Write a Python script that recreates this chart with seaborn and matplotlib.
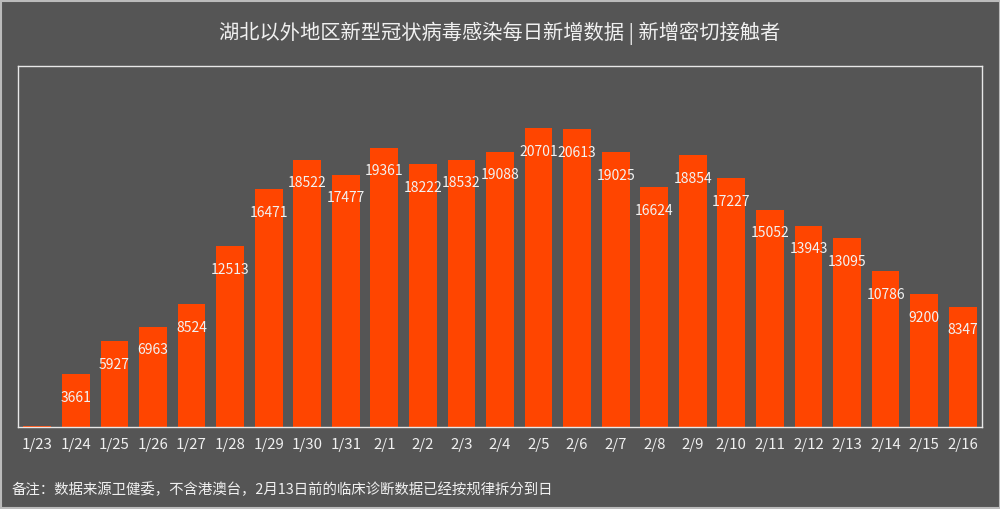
import pandas as pd
import matplotlib.pyplot as plt
import seaborn as sns

dates = ['1/23', '1/24', '1/25', '1/26', '1/27', '1/28', '1/29', '1/30', '1/31',
         '2/1', '2/2', '2/3', '2/4', '2/5', '2/6', '2/7', '2/8', '2/9', '2/10',
         '2/11', '2/12', '2/13', '2/14', '2/15', '2/16']
contacts = [60, 3661, 5927, 6963, 8524, 12513, 16471, 18522, 17477, 19361, 18222,
            18532, 19088, 20701, 20613, 19025, 16624, 18854, 17227, 15052, 13943,
            13095, 10786, 9200, 8347]

titulo = '湖北以外地区新型冠状病毒感染每日新增数据 | 新增密切接触者'
nota = '备注：数据来源卫健委，不含港澳台，2月13日前的临床诊断数据已经按规律拆分到日'

fondo = '#555555'
sns.set_style('dark')
plt.rcParams['font.family'] = ['Noto Sans CJK SC', 'DejaVu Sans']

datos = pd.DataFrame({'fecha': dates, 'valor': contacts})

fig = plt.figure(figsize=(10, 5.09), dpi=100, facecolor=fondo)
ax = fig.add_axes([0.018, 0.161, 0.964, 0.709])
ax.set_facecolor(fondo)
sns.barplot(data=datos, x='fecha', y='valor', color='#FF4500', saturation=1,
            width=0.72, linewidth=0, edgecolor='none', ax=ax)
ax.set_xlim(-0.5, len(dates) - 0.5)
ax.set_ylim(0, 25000)
ax.set_yticks([])
ax.set_xlabel('')
ax.set_ylabel('')
ax.tick_params(axis='x', length=0, colors='#f0f0f0', labelsize=10.8, pad=8)
for s in ax.spines.values():
    s.set_visible(True)
    s.set_color('#e8e8e8')
    s.set_linewidth(1)
ax.grid(False)

# etiquetas dentro de la barra
for i, v in enumerate(datos['valor']):
    if v > 1000:
        ax.annotate(str(v), (i, v), xytext=(0, -17), textcoords='offset points',
                    ha='center', va='center', color='#f2f2f2', fontsize=10)

fig.text(0.5, 0.935, titulo, ha='center', va='center', color='#f0f0f0', fontsize=14.6)
fig.text(0.012, 0.037, nota, ha='left', va='center', color='#f0f0f0', fontsize=10.4)

borde = plt.Rectangle((0.0005, 0.001), 0.999, 0.998, transform=fig.transFigure,
                      fill=False, edgecolor='#bbbbbb', linewidth=1.5)
fig.patches.append(borde)

plt.savefig('out.png', facecolor=fondo)
plt.close()
